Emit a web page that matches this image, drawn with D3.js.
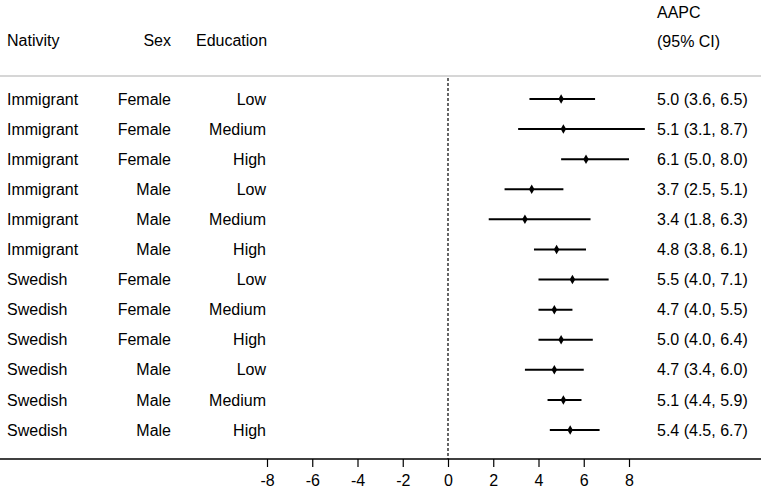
<!DOCTYPE html>
<html>
<head>
<meta charset="utf-8">
<script src="https://cdn.jsdelivr.net/npm/d3@7"></script>
<style>
  body { margin: 0; background: #fff; }
  text { font-family: "Liberation Sans", Arial, sans-serif; font-size: 16px; fill: #000; }
</style>
</head>
<body>
<div id="forest"></div>
<script>
// Rows of the forest plot
const nativity = ["Immigrant", "Immigrant", "Immigrant", "Immigrant", "Immigrant", "Immigrant",
                  "Swedish", "Swedish", "Swedish", "Swedish", "Swedish", "Swedish"];
const sex = ["Female", "Female", "Female", "Male", "Male", "Male",
             "Female", "Female", "Female", "Male", "Male", "Male"];
const education = ["Low", "Medium", "High", "Low", "Medium", "High",
                   "Low", "Medium", "High", "Low", "Medium", "High"];
const aapc = [5.0, 5.1, 6.1, 3.7, 3.4, 4.8, 5.5, 4.7, 5.0, 4.7, 5.1, 5.4];
const lower = [3.6, 3.1, 5.0, 2.5, 1.8, 3.8, 4.0, 4.0, 4.0, 3.4, 4.4, 4.5];
const upper = [6.5, 8.7, 8.0, 5.1, 6.3, 6.1, 7.1, 5.5, 6.4, 6.0, 5.9, 6.7];
const xTicks = [-8, -6, -4, -2, 0, 2, 4, 6, 8];

const width = 761, height = 490;

const svg = d3.select("#forest")
    .append("svg")
    .attr("width", width)
    .attr("height", height);

// Scales
const xScale = d3.scaleLinear()
    .domain([-8, 8])
    .range([267, 629]);

const yScale = d3.scalePoint()
    .domain(d3.range(aapc.length))
    .range([99, 430]);

const axisY = 459;
const valueX = 657;

// Header
svg.append("text").attr("x", 7).attr("y", 46).text("Nativity");
svg.append("text").attr("x", 171).attr("y", 46).attr("text-anchor", "end").text("Sex");
svg.append("text").attr("x", 196).attr("y", 46).text("Education");
svg.append("text").attr("x", valueX).attr("y", 18).text("AAPC");
svg.append("text").attr("x", valueX).attr("y", 47).text("(95% CI)");

// Top separator
svg.append("line")
    .attr("x1", 0).attr("x2", width)
    .attr("y1", 76).attr("y2", 76)
    .attr("stroke", "#c8c8c8")
    .attr("stroke-width", 1.5);

// Reference line at zero
svg.append("line")
    .attr("x1", xScale(0)).attr("x2", xScale(0))
    .attr("y1", 78).attr("y2", axisY)
    .attr("stroke", "#000")
    .attr("stroke-width", 1.2)
    .attr("stroke-dasharray", "3,2");

// Row labels
const rows = svg.selectAll(".row")
    .data(aapc.map((d, i) => i))
    .enter().append("g")
    .attr("transform", i => `translate(0,${yScale(i)})`);

rows.append("text").attr("x", 7).attr("dy", "0.35em").text(i => nativity[i]);
rows.append("text").attr("x", 171).attr("dy", "0.35em").attr("text-anchor", "end").text(i => sex[i]);
rows.append("text").attr("x", 266).attr("dy", "0.35em").attr("text-anchor", "end").text(i => education[i]);
rows.append("text").attr("x", valueX).attr("dy", "0.35em")
    .text(i => `${aapc[i].toFixed(1)} (${lower[i].toFixed(1)}, ${upper[i].toFixed(1)})`);

// CI lines
rows.append("line")
    .attr("x1", i => xScale(lower[i]))
    .attr("x2", i => xScale(upper[i]))
    .attr("stroke", "#000")
    .attr("stroke-width", 2);

// Point estimates as diamonds
rows.append("path")
    .attr("d", d3.symbol().type(d3.symbolDiamond).size(26))
    .attr("transform", i => `translate(${xScale(aapc[i])},0)`)
    .attr("fill", "#000");

// X axis
const xAxis = svg.append("g")
    .attr("transform", `translate(0,${axisY})`)
    .call(d3.axisBottom(xScale).tickValues(xTicks).tickSize(8).tickPadding(8).tickFormat(d => String(d)));
xAxis.select(".domain").remove();
xAxis.selectAll("line").attr("stroke-width", 1.2);
xAxis.selectAll("text")
    .style("font-family", "\"Liberation Sans\", Arial, sans-serif")
    .style("font-size", "16px")
    .attr("fill", "#000");

svg.append("line")
    .attr("x1", 0).attr("x2", width)
    .attr("y1", axisY).attr("y2", axisY)
    .attr("stroke", "#000")
    .attr("stroke-width", 1.5);
</script>
</body>
</html>
